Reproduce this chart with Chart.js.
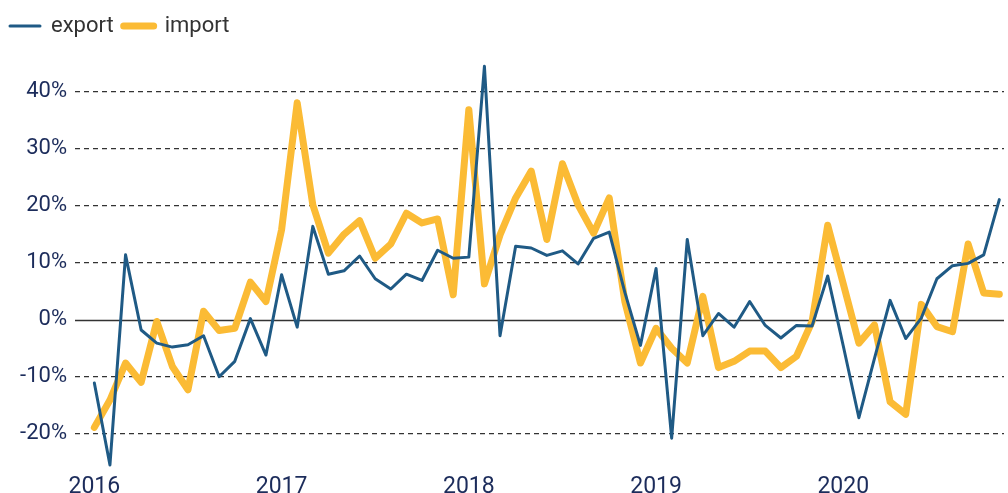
<!DOCTYPE html>
<html>
<head>
<meta charset="utf-8">
<script src="https://cdn.jsdelivr.net/npm/chart.js@4/dist/chart.umd.min.js"></script>
<style>
html,body{margin:0;padding:0;background:#fff;}
#wrap{width:1008px;height:493px;}
</style>
</head>
<body>
<div id="wrap"><canvas id="c" width="1008" height="493"></canvas></div>
<script>
const months = [
  "2016-01","2016-02","2016-03","2016-04","2016-05","2016-06","2016-07","2016-08","2016-09","2016-10","2016-11","2016-12",
  "2017-01","2017-02","2017-03","2017-04","2017-05","2017-06","2017-07","2017-08","2017-09","2017-10","2017-11","2017-12",
  "2018-01","2018-02","2018-03","2018-04","2018-05","2018-06","2018-07","2018-08","2018-09","2018-10","2018-11","2018-12",
  "2019-01","2019-02","2019-03","2019-04","2019-05","2019-06","2019-07","2019-08","2019-09","2019-10","2019-11","2019-12",
  "2020-01","2020-02","2020-03","2020-04","2020-05","2020-06","2020-07","2020-08","2020-09","2020-10","2020-11"
];
const exportValues = [
  -11.1,-25.5,11.4,-1.8,-4.1,-4.8,-4.4,-2.8,-10.0,-7.3,0.2,-6.2,
  7.9,-1.3,16.4,8.0,8.6,11.2,7.2,5.4,8.0,6.9,12.2,10.8,
  11.0,44.5,-2.8,12.9,12.6,11.3,12.1,9.8,14.3,15.4,4.8,-4.5,
  9.0,-20.8,14.1,-2.8,1.1,-1.3,3.2,-1.0,-3.2,-1.0,-1.1,7.7,
  -4.6,-17.2,-6.8,3.4,-3.3,0.3,7.2,9.5,9.9,11.4,21.1
];
const importValues = [
  -18.9,-14.1,-7.6,-11.0,-0.3,-8.2,-12.3,1.5,-1.9,-1.5,6.6,3.2,
  15.8,38.1,20.2,11.7,15.0,17.4,10.8,13.3,18.7,17.0,17.7,4.4,
  36.9,6.3,14.9,21.4,26.1,14.1,27.4,20.2,15.2,21.4,3.2,-7.6,
  -1.5,-5.0,-7.6,4.1,-8.4,-7.3,-5.5,-5.5,-8.4,-6.4,-0.3,16.6,
  6.3,-4.1,-0.9,-14.4,-16.6,2.7,-1.2,-2.1,13.3,4.7,4.5
];
const yearTickLabels = ["2016","2017","2018","2019","2020"];
const yTickValues = [-20,-10,0,10,20,30,40];

const seriesNames = ["export","import"];
const seriesColors = ["#1f5a85","#fbbb35"];

const toPoints = vals => vals.map((v,i)=>({x:i,y:v}));

const zeroLine = {
  id:'zeroLine',
  beforeDatasetsDraw(chart){
    const {ctx, chartArea, scales:{y}} = chart;
    const py = Math.round(y.getPixelForValue(0)) + 0.5;
    ctx.save();
    ctx.strokeStyle = '#333';
    ctx.lineWidth = 1.5;
    ctx.beginPath();
    ctx.moveTo(chartArea.left, py);
    ctx.lineTo(chartArea.right, py);
    ctx.stroke();
    ctx.restore();
  }
};

new Chart(document.getElementById('c'), {
  type:'line',
  data:{
    datasets:[
      {label:seriesNames[0], data:toPoints(exportValues), borderColor:seriesColors[0], backgroundColor:seriesColors[0],
       borderWidth:3, pointRadius:0, tension:0, borderJoinStyle:'round', borderCapStyle:'round'},
      {label:seriesNames[1], data:toPoints(importValues), borderColor:seriesColors[1], backgroundColor:seriesColors[1],
       borderWidth:7, pointRadius:0, tension:0, borderJoinStyle:'round', borderCapStyle:'round'}
    ]
  },
  options:{
    responsive:false,
    animation:false,
    layout:{padding:{top:5,right:4,left:0,bottom:-10}},
    plugins:{
      tooltip:{enabled:false},
      legend:{
        position:'top', align:'start',
        labels:{
          font:{family:'Roboto', size:22},
          color:'#333',
          boxWidth:30, padding:10,
          usePointStyle:true, pointStyleWidth:30,
          generateLabels(chart){
            return chart.data.datasets.map((d,i)=>({
              text:d.label, fillStyle:d.borderColor, strokeStyle:d.borderColor,
              lineWidth:d.borderWidth, lineCap:'round', pointStyle:'line', datasetIndex:i, hidden:false, fontColor:'#333'
            }));
          }
        }
      }
    },
    scales:{
      x:{
        type:'linear', min:-1.24, max:58.3,
        afterBuildTicks(s){ s.ticks = yearTickLabels.map((_,i)=>({value:i*12})); },
        ticks:{
          font:{family:'Roboto', size:23, lineHeight:1}, color:'#1c2c5b', padding:4, maxRotation:0,
          callback:(v)=> yearTickLabels[Math.round(v/12)] ?? ''
        },
        grid:{display:false, drawTicks:false},
        border:{display:false}
      },
      y:{
        min:-26.7, max:47.9,
        afterBuildTicks(s){ s.ticks = yTickValues.map(v=>({value:v})); },
        afterFit(s){ s.width = 75; },
        ticks:{
          font:{family:'Roboto', size:22}, color:'#1c2c5b', padding:8,
          callback:(v)=> v + '%'
        },
        grid:{
          drawTicks:false,
          color:(c)=> c.tick && c.tick.value === 0 ? 'rgba(0,0,0,0)' : '#333',
          lineWidth:1.3
        },
        border:{display:false, dash:[5,4]}
      }
    }
  },
  plugins:[zeroLine]
});
</script>
</body>
</html>
